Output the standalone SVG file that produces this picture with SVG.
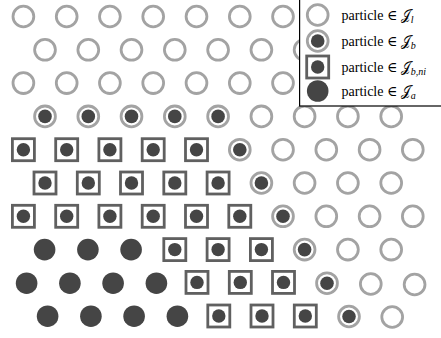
<svg xmlns="http://www.w3.org/2000/svg" width="441" height="338" viewBox="0 0 441 338">
<style>
.ring{fill:none;stroke:#a3a3a3;stroke-width:2.8}
.sq{fill:none;stroke:#606060;stroke-width:2.8}
.dk{fill:#454545}
.lt{font-family:"Liberation Serif","DejaVu Serif",serif;font-size:14px;fill:#000}
.sub{font-style:italic;font-size:10px}
</style>
<defs>
<g id="pl"><circle class="ring" r="10.4"/></g>
<g id="pb"><circle class="ring" r="10.4"/><circle class="dk" r="6.8"/></g>
<g id="pbni"><rect class="sq" x="-11" y="-11" width="22" height="22"/><circle class="dk" r="6.7"/></g>
<g id="pa"><circle class="dk" r="10.8"/></g>
</defs>
<g id="particles">
<g id="r0c0"><use href="#pl" x="23.4" y="16.5"/></g>
<g id="r0c1"><use href="#pl" x="66.7" y="16.5"/></g>
<g id="r0c2"><use href="#pl" x="109.9" y="16.5"/></g>
<g id="r0c3"><use href="#pl" x="153.2" y="16.5"/></g>
<g id="r0c4"><use href="#pl" x="196.5" y="16.5"/></g>
<g id="r0c5"><use href="#pl" x="239.8" y="16.5"/></g>
<g id="r0c6"><use href="#pl" x="283.0" y="16.5"/></g>

<g id="r1c0"><use href="#pl" x="45.0" y="49.8"/></g>
<g id="r1c1"><use href="#pl" x="88.3" y="49.8"/></g>
<g id="r1c2"><use href="#pl" x="131.5" y="49.8"/></g>
<g id="r1c3"><use href="#pl" x="174.8" y="49.8"/></g>
<g id="r1c4"><use href="#pl" x="218.1" y="49.8"/></g>
<g id="r1c5"><use href="#pl" x="261.4" y="49.8"/></g>
<g id="r1c6"><use href="#pl" x="304.6" y="49.8"/></g>

<g id="r2c0"><use href="#pl" x="23.4" y="83.1"/></g>
<g id="r2c1"><use href="#pl" x="66.7" y="83.1"/></g>
<g id="r2c2"><use href="#pl" x="109.9" y="83.1"/></g>
<g id="r2c3"><use href="#pl" x="153.2" y="83.1"/></g>
<g id="r2c4"><use href="#pl" x="196.5" y="83.1"/></g>
<g id="r2c5"><use href="#pl" x="239.8" y="83.1"/></g>
<g id="r2c6"><use href="#pl" x="283.0" y="83.1"/></g>

<g id="r3c0"><use href="#pb" x="45.0" y="116.4"/></g>
<g id="r3c1"><use href="#pb" x="88.3" y="116.4"/></g>
<g id="r3c2"><use href="#pb" x="131.5" y="116.4"/></g>
<g id="r3c3"><use href="#pb" x="174.8" y="116.4"/></g>
<g id="r3c4"><use href="#pb" x="218.1" y="116.4"/></g>
<g id="r3c5"><use href="#pl" x="261.4" y="116.4"/></g>
<g id="r3c6"><use href="#pl" x="304.6" y="116.4"/></g>
<g id="r3c7"><use href="#pl" x="347.9" y="116.4"/></g>
<g id="r3c8"><use href="#pl" x="391.2" y="116.4"/></g>

<g id="r4c0"><use href="#pbni" x="23.4" y="149.7"/></g>
<g id="r4c1"><use href="#pbni" x="66.7" y="149.7"/></g>
<g id="r4c2"><use href="#pbni" x="109.9" y="149.7"/></g>
<g id="r4c3"><use href="#pbni" x="153.2" y="149.7"/></g>
<g id="r4c4"><use href="#pbni" x="196.5" y="149.7"/></g>
<g id="r4c5"><use href="#pb" x="239.8" y="149.7"/></g>
<g id="r4c6"><use href="#pl" x="283.0" y="149.7"/></g>
<g id="r4c7"><use href="#pl" x="326.3" y="149.7"/></g>
<g id="r4c8"><use href="#pl" x="369.6" y="149.7"/></g>
<g id="r4c9"><use href="#pl" x="412.8" y="149.7"/></g>

<g id="r5c0"><use href="#pbni" x="45.0" y="183.0"/></g>
<g id="r5c1"><use href="#pbni" x="88.3" y="183.0"/></g>
<g id="r5c2"><use href="#pbni" x="131.5" y="183.0"/></g>
<g id="r5c3"><use href="#pbni" x="174.8" y="183.0"/></g>
<g id="r5c4"><use href="#pbni" x="218.1" y="183.0"/></g>
<g id="r5c5"><use href="#pb" x="261.4" y="183.0"/></g>
<g id="r5c6"><use href="#pl" x="304.6" y="183.0"/></g>
<g id="r5c7"><use href="#pl" x="347.9" y="183.0"/></g>
<g id="r5c8"><use href="#pl" x="391.2" y="183.0"/></g>

<g id="r6c0"><use href="#pbni" x="23.4" y="216.3"/></g>
<g id="r6c1"><use href="#pbni" x="66.7" y="216.3"/></g>
<g id="r6c2"><use href="#pbni" x="109.9" y="216.3"/></g>
<g id="r6c3"><use href="#pbni" x="153.2" y="216.3"/></g>
<g id="r6c4"><use href="#pbni" x="196.5" y="216.3"/></g>
<g id="r6c5"><use href="#pbni" x="239.8" y="216.3"/></g>
<g id="r6c6"><use href="#pb" x="283.0" y="216.3"/></g>
<g id="r6c7"><use href="#pl" x="326.3" y="216.3"/></g>
<g id="r6c8"><use href="#pl" x="369.6" y="216.3"/></g>
<g id="r6c9"><use href="#pl" x="412.8" y="216.3"/></g>

<g id="r7c0"><use href="#pa" x="44.6" y="249.6"/></g>
<g id="r7c1"><use href="#pa" x="87.9" y="249.6"/></g>
<g id="r7c2"><use href="#pa" x="131.1" y="249.6"/></g>
<g id="r7c3"><use href="#pbni" x="174.8" y="249.6"/></g>
<g id="r7c4"><use href="#pbni" x="218.1" y="249.6"/></g>
<g id="r7c5"><use href="#pbni" x="261.4" y="249.6"/></g>
<g id="r7c6"><use href="#pb" x="304.6" y="249.6"/></g>
<g id="r7c7"><use href="#pl" x="347.9" y="249.6"/></g>
<g id="r7c8"><use href="#pl" x="391.2" y="249.6"/></g>

<g id="r8c0"><use href="#pa" x="26.6" y="283.2"/></g>
<g id="r8c1"><use href="#pa" x="69.9" y="283.2"/></g>
<g id="r8c2"><use href="#pa" x="113.1" y="283.2"/></g>
<g id="r8c3"><use href="#pa" x="156.4" y="283.2"/></g>
<g id="r8c4"><use href="#pbni" x="197.0" y="282.4"/></g>
<g id="r8c5"><use href="#pbni" x="240.3" y="282.4"/></g>
<g id="r8c6"><use href="#pbni" x="283.5" y="282.4"/></g>
<g id="r8c7"><use href="#pb" x="327.0" y="283.2"/></g>
<g id="r8c8"><use href="#pl" x="370.8" y="284.0"/></g>
<g id="r8c9"><use href="#pl" x="414.6" y="284.5"/></g>

<g id="r9c0"><use href="#pa" x="47.6" y="316.2"/></g>
<g id="r9c1"><use href="#pa" x="90.9" y="316.2"/></g>
<g id="r9c2"><use href="#pa" x="134.1" y="316.2"/></g>
<g id="r9c3"><use href="#pa" x="177.4" y="316.2"/></g>
<g id="r9c4"><use href="#pbni" x="218.8" y="316.0"/></g>
<g id="r9c5"><use href="#pbni" x="262.0" y="316.0"/></g>
<g id="r9c6"><use href="#pbni" x="305.3" y="316.0"/></g>
<g id="r9c7"><use href="#pb" x="349.0" y="316.5"/></g>
<g id="r9c8"><use href="#pl" x="392.2" y="317.0"/></g>
</g>
<g id="legend">
<rect x="299.6" y="-2" width="150" height="108" fill="#fff" stroke="#000" stroke-width="1.2"/>
<use href="#pl" x="317.7" y="15"/>
<use href="#pb" x="317.7" y="41"/>
<use href="#pbni" x="317.7" y="67"/>
<use href="#pa" x="317.7" y="91"/>
<text class="lt" x="341.5" y="20">particle ∈ 𝒥<tspan class="sub" dy="3">l</tspan></text>
<text class="lt" x="341.5" y="45.5">particle ∈ 𝒥<tspan class="sub" dy="3">b</tspan></text>
<text class="lt" x="341.5" y="71.5">particle ∈ 𝒥<tspan class="sub" dy="3">b,ni</tspan></text>
<text class="lt" x="341.5" y="96">particle ∈ 𝒥<tspan class="sub" dy="3">a</tspan></text>
</g>
</svg>
